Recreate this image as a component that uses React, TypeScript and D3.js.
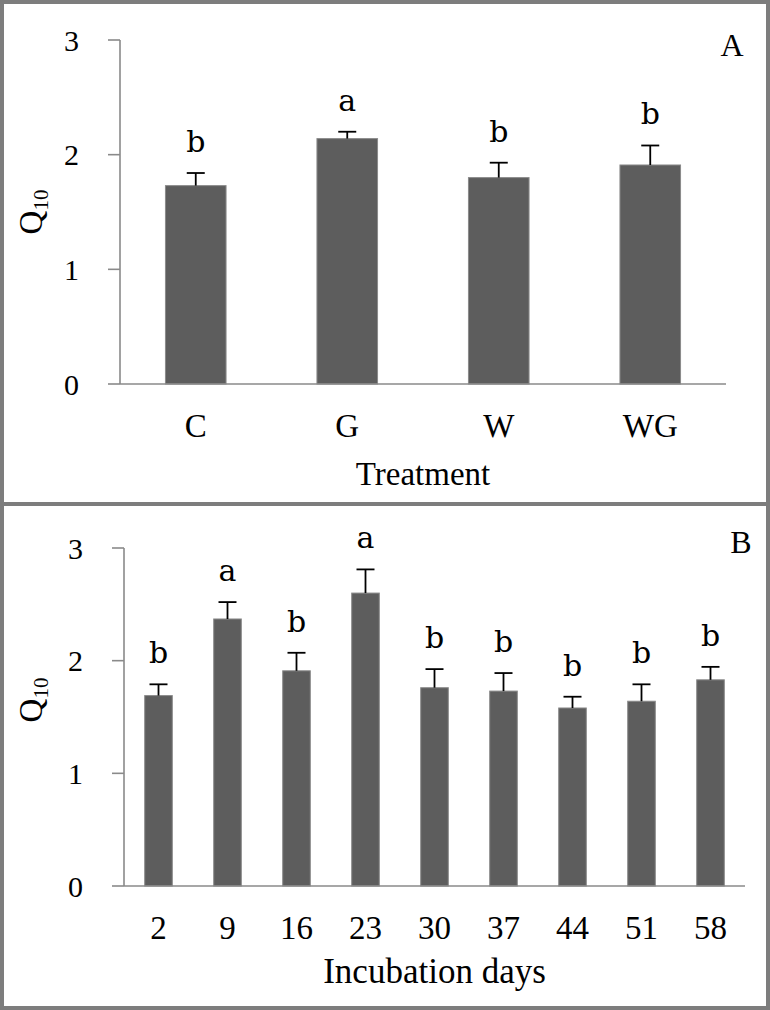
import React from "react";
import * as d3 from "d3";

// ---- Data ----
const treatments = ["C", "G", "W", "WG"];
const q10Treatment = [1.73, 2.14, 1.8, 1.91];
const errTreatment = [0.11, 0.06, 0.13, 0.17];
const lettersTreatment = ["b", "a", "b", "b"];

const days = ["2", "9", "16", "23", "30", "37", "44", "51", "58"];
const q10Days = [1.69, 2.37, 1.91, 2.6, 1.76, 1.73, 1.58, 1.64, 1.83];
const errDays = [0.1, 0.15, 0.16, 0.21, 0.165, 0.16, 0.1, 0.15, 0.115];
const lettersDays = ["b", "a", "b", "a", "b", "b", "b", "b", "b"];

const yTicks = [0, 1, 2, 3];

const SERIF = "'Liberation Serif', 'Times New Roman', serif";
const LETTER_FONT = "'DejaVu Serif', serif";

type PanelProps = {
  cats: string[];
  values: number[];
  errs: number[];
  letters: string[];
  x0: number;
  x1: number;
  yTop: number;
  yBase: number;
  title: string;
  titleSize: number;
  tag: string;
  tagX: number;
  tagY: number;
  yLabelY: number;
  titleOffset: number;
};

function Panel(p: PanelProps) {
  const x = d3
    .scaleBand<string>()
    .domain(p.cats)
    .range([p.x0, p.x1])
    .paddingInner(0.6)
    .paddingOuter(0.3);
  const y = d3.scaleLinear().domain([0, 3]).range([p.yBase, p.yTop]);
  const bw = x.bandwidth();
  const axisColor = "#8a8a8a";
  const capHalf = 9;
  return (
    <g>
      {p.cats.map((c, i) => {
        const cx = (x(c) as number) + bw / 2;
        const top = y(p.values[i]);
        const et = y(p.values[i] + p.errs[i]);
        return (
          <g key={c}>
            <rect
              x={x(c) as number}
              y={top}
              width={bw}
              height={p.yBase - top}
              fill="#5d5d5d"
              stroke="#8a8a8a"
              strokeWidth={1}
            />
            <line x1={cx} x2={cx} y1={top} y2={et} stroke="#000" strokeWidth={1.8} />
            <line x1={cx - capHalf} x2={cx + capHalf} y1={et} y2={et} stroke="#000" strokeWidth={1.8} />
            <text
              x={cx}
              y={et - 21}
              textAnchor="middle"
              fontFamily={LETTER_FONT}
              fontSize={30}
              fill="#000"
            >
              {p.letters[i]}
            </text>
            <text
              x={cx}
              y={p.yBase + 53}
              textAnchor="middle"
              fontFamily={SERIF}
              fontSize={33}
              fill="#000"
            >
              {c}
            </text>
          </g>
        );
      })}
      <line x1={p.x0} x2={p.x0} y1={y(3)} y2={p.yBase} stroke={axisColor} strokeWidth={1.6} />
      {yTicks.map((t) => (
        <g key={t}>
          <line x1={p.x0 - 12} x2={p.x0} y1={y(t)} y2={y(t)} stroke={axisColor} strokeWidth={1.6} />
          <text
            x={p.x0 - 41}
            y={y(t)}
            dy="0.35em"
            textAnchor="end"
            fontFamily={SERIF}
            fontSize={30}
            fill="#000"
          >
            {t}
          </text>
        </g>
      ))}
      <line x1={p.x0} x2={p.x1} y1={p.yBase} y2={p.yBase} stroke={axisColor} strokeWidth={1.6} />
      <text
        transform={`translate(42,${p.yLabelY}) rotate(-90)`}
        textAnchor="middle"
        fontFamily={SERIF}
        fontSize={33}
        fill="#000"
      >
        Q
        <tspan fontSize={21} dy={6}>
          10
        </tspan>
      </text>
      <text
        x={(p.x0 + p.x1) / 2}
        y={p.yBase + p.titleOffset}
        textAnchor="middle"
        fontFamily={SERIF}
        fontSize={p.titleSize}
        fill="#000"
      >
        {p.title}
      </text>
      <text x={p.tagX} y={p.tagY} textAnchor="middle" fontFamily={SERIF} fontSize={32} fill="#000">
        {p.tag}
      </text>
    </g>
  );
}

export default function App() {
  const W = 770;
  const H = 1010;
  const border = "#7d7d7d";
  return (
    <svg
      width={W}
      height={H}
      style={{ position: "absolute", left: 0, top: 0, background: "#fff" }}
    >
      <rect x={0} y={0} width={W} height={H} fill="#fff" />
      <Panel
        cats={treatments}
        values={q10Treatment}
        errs={errTreatment}
        letters={lettersTreatment}
        x0={120}
        x1={726}
        yTop={40}
        yBase={384}
        title="Treatment"
        titleSize={33}
        tag="A"
        tagX={732}
        tagY={56}
        yLabelY={212}
        titleOffset={101}
      />
      <Panel
        cats={days}
        values={q10Days}
        errs={errDays}
        letters={lettersDays}
        x0={124}
        x1={745}
        yTop={548}
        yBase={886}
        title="Incubation days"
        titleSize={35}
        tag="B"
        tagX={741}
        tagY={553}
        yLabelY={700}
        titleOffset={97}
      />
      <rect x={2} y={2} width={W - 4} height={H - 4} fill="none" stroke={border} strokeWidth={4} />
      <line x1={0} x2={W} y1={504} y2={504} stroke={border} strokeWidth={4} />
    </svg>
  );
}
